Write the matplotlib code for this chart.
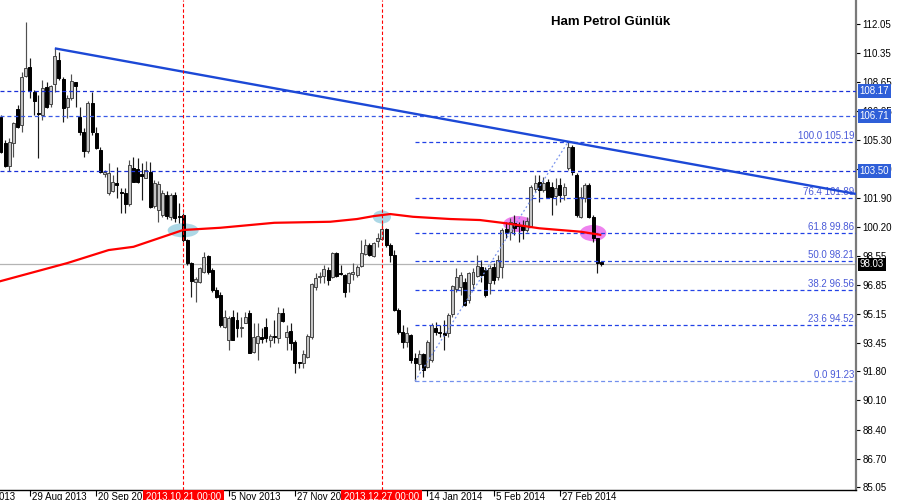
import matplotlib
matplotlib.use('Agg')
import matplotlib.pyplot as plt
import matplotlib.transforms as mtransforms
from matplotlib.patches import Ellipse
import numpy as np

plt.rcParams['font.family'] = ['Liberation Sans', 'DejaVu Sans']

# ---------------- data ----------------
opens = [106.65, 105.13, 103.79, 105.09, 107.07, 106.16, 109.02, 109.56, 108.07, 106.84,
         106.74, 108.40, 107.37, 108.53, 109.95, 108.84, 107.23, 107.72, 108.65, 106.65,
         105.73, 104.65, 107.43, 105.67, 104.70, 103.28, 102.18, 102.31, 102.76, 102.27,
         102.18, 101.54, 103.67, 103.60, 103.28, 103.09, 103.44, 101.44, 101.20, 100.91,
         102.08, 100.82, 102.08, 100.88, 100.91, 99.46, 98.13, 97.03, 97.03, 97.61,
         98.52, 97.71, 96.54, 96.25, 94.40, 93.62, 94.99, 94.79, 94.31, 94.63,
         95.22, 92.94, 93.43, 93.82, 94.40, 93.62, 93.85, 93.72, 95.18, 93.82,
         94.15, 93.53, 92.35, 92.26, 92.65, 93.78, 96.73, 97.28, 97.36, 97.71,
         97.28, 98.68, 97.51, 97.41, 96.93, 97.47, 97.41, 97.94, 98.64, 99.16,
         98.52, 99.42, 99.49, 100.08, 99.16, 98.58, 95.37, 94.11, 93.53, 93.92,
         92.55, 92.22, 92.81, 92.07, 92.46, 94.30, 94.11, 94.01, 94.01, 95.12,
         96.60, 96.73, 97.03, 95.96, 96.90, 97.38, 97.90, 97.71, 96.93, 97.90,
         97.32, 97.90, 100.10, 99.94, 100.43, 100.33, 100.30, 100.04, 100.29, 102.43,
         102.86, 102.37, 102.86, 102.57, 102.00, 102.66, 102.08, 103.63, 104.90, 103.25,
         100.82, 101.88, 102.66, 100.82, 99.55, 98.15]
highs = [106.74, 105.29, 105.38, 106.36, 107.33, 109.27, 112.19, 110.05, 108.20, 107.91,
         108.79, 108.69, 108.49, 110.63, 110.40, 108.98, 107.91, 109.12, 108.69, 107.23,
         105.97, 107.56, 108.10, 106.06, 104.90, 103.54, 103.93, 103.25, 103.73, 102.47,
         102.51, 104.12, 104.31, 104.22, 103.93, 104.06, 104.02, 102.95, 102.90, 102.40,
         102.30, 102.20, 102.27, 101.63, 101.01, 99.50, 98.20, 97.30, 97.90, 98.77,
         98.60, 97.80, 96.73, 96.40, 95.37, 95.00, 95.37, 95.28, 94.98, 95.28,
         95.40, 94.60, 94.60, 94.31, 94.89, 94.00, 94.79, 95.57, 95.47, 94.50,
         94.60, 93.60, 92.36, 93.04, 94.00, 96.95, 97.51, 97.61, 98.00, 97.90,
         98.77, 98.77, 97.99, 97.50, 97.60, 98.10, 98.00, 99.46, 99.50, 99.26,
         99.36, 99.84, 100.43, 100.14, 99.30, 98.90, 95.50, 94.50, 94.40, 94.00,
         92.85, 93.04, 92.85, 93.60, 94.60, 94.70, 94.50, 94.79, 95.18, 96.83,
         97.84, 97.60, 97.22, 97.61, 97.80, 98.58, 98.29, 97.90, 98.00, 98.10,
         98.58, 100.14, 100.49, 100.72, 100.91, 100.52, 100.60, 100.82, 102.66, 103.25,
         103.25, 103.15, 103.00, 102.86, 103.05, 103.05, 102.76, 105.19, 105.00, 103.35,
         102.57, 102.76, 102.76, 100.91, 99.60, 98.25]
lows = [104.51, 103.73, 103.48, 104.31, 105.97, 105.77, 108.98, 107.72, 106.74, 104.26,
        106.45, 107.13, 107.23, 108.07, 108.79, 106.36, 106.59, 107.62, 107.23, 105.58,
        104.31, 104.51, 105.58, 104.76, 103.34, 103.15, 102.08, 102.23, 101.88, 101.01,
        101.01, 101.46, 102.82, 102.76, 101.79, 103.05, 101.30, 101.30, 100.52, 100.80,
        100.70, 100.60, 100.50, 100.43, 99.36, 98.00, 96.15, 95.86, 96.93, 97.51,
        97.50, 96.40, 96.05, 94.40, 94.30, 93.04, 93.60, 93.82, 93.82, 94.60,
        92.85, 92.85, 92.46, 93.43, 93.53, 93.24, 93.43, 93.43, 94.69, 93.04,
        93.04, 91.68, 91.97, 91.97, 92.60, 93.70, 96.54, 96.93, 96.93, 96.83,
        97.22, 97.32, 97.40, 96.15, 96.44, 97.12, 97.30, 97.86, 98.58, 98.52,
        98.48, 99.07, 99.46, 99.07, 98.19, 95.30, 94.00, 93.14, 93.24, 92.26,
        91.23, 91.87, 91.49, 91.97, 92.36, 93.90, 93.82, 93.04, 93.82, 94.95,
        96.44, 96.25, 95.60, 95.80, 96.60, 97.32, 97.03, 96.15, 96.30, 96.90,
        97.12, 97.22, 99.55, 99.46, 99.75, 99.36, 99.50, 99.94, 100.23, 102.27,
        101.69, 102.27, 101.88, 100.92, 101.50, 101.69, 101.79, 103.54, 103.25, 100.82,
        100.72, 101.70, 100.72, 99.36, 97.51, 97.95]
closes = [104.61, 103.79, 105.19, 106.26, 106.06, 108.98, 109.50, 108.14, 107.56, 106.78,
          108.34, 107.23, 108.43, 110.20, 108.88, 107.13, 107.72, 108.73, 108.45, 105.73,
          104.65, 107.43, 105.73, 104.80, 103.44, 103.44, 103.34, 102.86, 102.66, 102.18,
          101.54, 103.83, 102.86, 102.86, 103.21, 103.54, 101.40, 102.80, 102.70, 102.18,
          100.85, 102.08, 100.72, 100.79, 99.46, 98.09, 97.08, 97.16, 97.80, 98.48,
          97.61, 96.54, 96.15, 94.50, 94.99, 94.89, 93.62, 94.31, 94.40, 94.99,
          92.85, 93.82, 93.88, 93.68, 93.72, 93.86, 93.80, 95.18, 94.75, 94.11,
          93.43, 92.30, 92.26, 92.79, 93.88, 96.87, 97.22, 97.38, 97.74, 97.12,
          98.68, 97.36, 97.46, 96.44, 97.51, 97.61, 97.86, 98.68, 99.16, 98.58,
          99.26, 99.55, 100.08, 99.16, 98.58, 95.37, 94.11, 93.53, 94.01, 92.46,
          92.26, 92.81, 91.87, 93.53, 94.50, 94.11, 94.01, 93.92, 95.08, 96.79,
          97.32, 97.41, 95.67, 97.51, 97.61, 97.96, 97.42, 96.25, 97.80, 97.12,
          98.29, 100.04, 99.90, 100.49, 100.14, 100.28, 100.05, 100.56, 102.57, 102.76,
          102.37, 102.76, 101.98, 101.98, 102.47, 102.08, 102.57, 104.90, 103.44, 100.91,
          101.98, 102.66, 100.82, 99.55, 98.09, 98.03]

ma_bars = [-1, 16, 26, 32, 44, 53, 66, 79.5, 86, 90, 94, 99.5, 108.5, 115.7, 122, 130, 140, 145]
ma_vals = [97.00, 98.11, 98.87, 99.06, 100.04, 100.17, 100.46, 100.52, 100.68, 100.85,
           100.97, 100.81, 100.68, 100.62, 100.43, 100.14, 99.94, 99.75]

trend_bars = [13, 137]
trend_vals = [110.63, 105.19]

hlines = [108.17, 106.71, 103.50]
current_price = 98.03

fib_start_bar = 100
fib_end_bar = 137
fib_ratios = ['100.0', '76.4', '61.8', '50.0', '38.2', '23.6', '0.0']
fib_values = [105.19, 101.89, 99.86, 98.21, 96.56, 94.52, 91.23]

vline_bars = [44, 92]
vline_labels = ['2013.10.21 00:00', '2013.12.27 00:00']

date_tick_bars = [-9, 7, 23, 39, 55, 71, 87, 103, 119, 135]
date_tick_labels = ['7 Aug 2013', '29 Aug 2013', '20 Sep 2013', '14 Oct 2013', '5 Nov 2013',
                    '27 Nov 2013', '20 Dec 2013', '14 Jan 2014', '5 Feb 2014', '27 Feb 2014']

price_ticks = [112.05, 110.35, 108.65, 106.95, 105.30, 103.60, 101.90, 100.20, 98.55,
               96.85, 95.15, 93.45, 91.80, 90.10, 88.40, 86.70, 85.05]

# highlight ellipses: (bar, price, width in bars, height in price, colour)
ellipses = [(44, 100.02, 7.5, 0.82, '#add8e6'),
            (92, 100.80, 4.4, 0.76, '#add8e6'),
            (124.9, 100.39, 7.2, 0.93, '#ee82ee'),
            (143, 99.86, 6.4, 0.95, '#ee82ee')]

XLIM = (-0.24, 206.5)
YLIM = (84.88, 113.45)

# ---------------- figure ----------------
fig = plt.figure(figsize=(9, 5), dpi=100)
ax = fig.add_axes([0, 10 / 500, 856 / 900, 490 / 500])

o = np.array(opens); h = np.array(highs); l = np.array(lows); c = np.array(closes)
idx = np.arange(len(o))
up = c >= o

for (bx, py, w, hh, col) in ellipses:
    ax.add_patch(Ellipse((bx, py), w, hh, facecolor=col, edgecolor='none', zorder=1))

ax.axhline(current_price, color='#b4b4b4', lw=0.9, zorder=1.5)

ax.vlines(idx[up], l[up], h[up], color='#505050', lw=0.85, zorder=3)
ax.vlines(idx[~up], l[~up], h[~up], color='#1a1a1a', lw=0.85, zorder=3)
bb = np.minimum(o, c)
bh = np.maximum(np.abs(c - o), 0.03)
ax.bar(idx[up], bh[up], bottom=bb[up], width=0.72, color='#c4c4c4', edgecolor='#454545',
       linewidth=0.7, zorder=4)
ax.bar(idx[~up], bh[~up], bottom=bb[~up], width=0.72, color='black', edgecolor='black',
       linewidth=0.7, zorder=4)

hline_colors = ['#1a30d8', '#3a5ae6', '#1a30d8']
for v, col in zip(hlines, hline_colors):
    ax.axhline(v, color=col, lw=0.9, dashes=(3.2, 2.3), zorder=5)

for r, v in zip(fib_ratios, fib_values):
    col = '#7390ee' if r == '0.0' else '#2242e6'
    ax.plot([fib_start_bar, XLIM[1]], [v, v], color=col, lw=0.9, dashes=(3.2, 2.3), zorder=5)
    ax.text(1.0, v, f'{r} {v:.2f}', color='#4a5ad8', fontsize=7, ha='right', va='bottom',
            transform=mtransforms.offset_copy(
                mtransforms.blended_transform_factory(ax.transAxes, ax.transData),
                fig=fig, x=-2, y=1, units='dots'), zorder=5.5)

ax.plot([fib_start_bar, fib_end_bar], [fib_values[-1], fib_values[0]], color='#7a95ee',
        lw=0.9, dashes=(1.5, 2), zorder=5)

ax.plot(ma_bars, ma_vals, color='#ff0000', lw=1.6, zorder=6, solid_capstyle='butt')

slope = (trend_vals[1] - trend_vals[0]) / (trend_bars[1] - trend_bars[0])
x_end = XLIM[1]
ax.plot([trend_bars[0], x_end], [trend_vals[0], trend_vals[0] + slope * (x_end - trend_bars[0])],
        color='#1c48d6', lw=1.7, zorder=6, solid_capstyle='butt')

for vb in vline_bars:
    ax.axvline(vb, color='#ff0000', lw=0.8, dashes=(3, 2), zorder=7)

# ---------------- axes styling ----------------
for s in ['top', 'left']:
    ax.spines[s].set_visible(False)
ax.spines['bottom'].set_color('black')
ax.spines['bottom'].set_linewidth(1.0)
ax.spines['right'].set_color('#7a7a7a')
ax.spines['right'].set_linewidth(1.6)

ax.yaxis.tick_right()
ax.set_yticks(price_ticks)
ax.set_yticklabels([f'{p:.2f}' for p in price_ticks])
ax.tick_params(axis='y', direction='out', length=3, width=0.8, pad=1.5, labelsize=7,
               colors='black')
ax.set_xticks([b for b in date_tick_bars if b >= XLIM[0]])
ax.tick_params(axis='x', direction='out', length=4, width=0.8, labelbottom=False)

ax.set_xlim(*XLIM)
ax.set_ylim(*YLIM)

tx = mtransforms.blended_transform_factory(ax.transData, ax.transAxes)
for b, lab in zip(date_tick_bars, date_tick_labels):
    ax.text(b, 0, lab, fontsize=7, ha='left', va='top', clip_on=False, zorder=8,
            transform=mtransforms.offset_copy(tx, fig=fig, x=2, y=-2, units='dots'))

for b, lab in zip(vline_bars, vline_labels):
    ax.text(b, 0, lab, fontsize=7, ha='center', va='top', color='white', clip_on=False,
            zorder=20, bbox=dict(boxstyle='square,pad=0.3', fc='#ff0000', ec='none'),
            transform=mtransforms.offset_copy(tx, fig=fig, x=0, y=-2.5, units='dots'))

ty = mtransforms.blended_transform_factory(ax.transAxes, ax.transData)
for v in hlines:
    ax.text(1.0, v, f'{v:.2f}', fontsize=7, ha='left', va='center', color='white',
            clip_on=False, zorder=20,
            bbox=dict(boxstyle='square,pad=0.2', fc='#2f5fd8', ec='none'),
            transform=mtransforms.offset_copy(ty, fig=fig, x=3.5, y=0, units='dots'))
ax.text(1.0, current_price, f'{current_price:.2f}', fontsize=7, ha='left', va='center',
        color='white', clip_on=False, zorder=21,
        bbox=dict(boxstyle='square,pad=0.2', fc='black', ec='none'),
        transform=mtransforms.offset_copy(ty, fig=fig, x=3.5, y=0, units='dots'))

fig.text(611 / 900, 1 - 22 / 500, 'Ham Petrol Günlük', fontsize=9.5, fontweight='bold',
         ha='center', va='center', color='black')

fig.savefig('out.png', dpi=100, facecolor='white')
